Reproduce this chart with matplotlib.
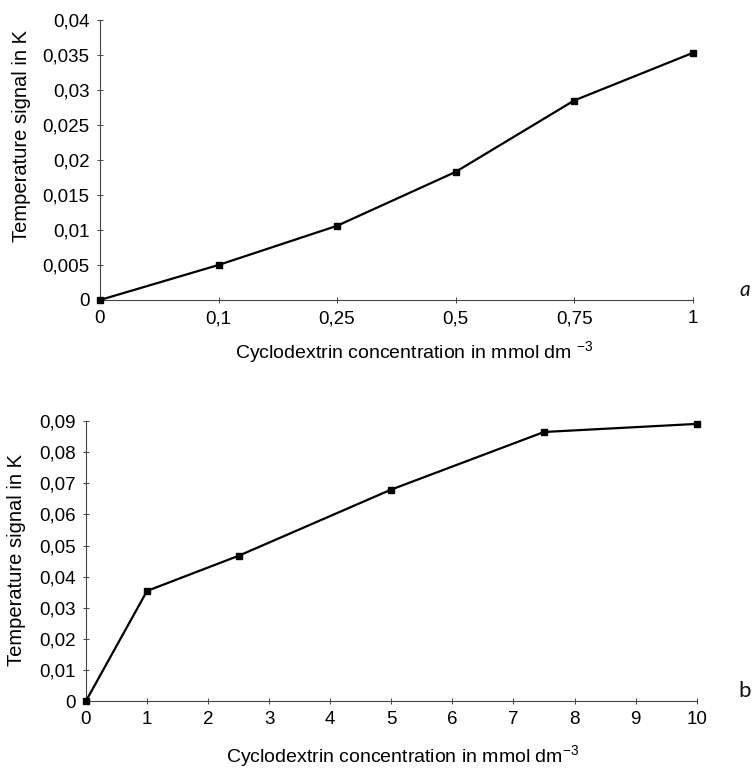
import matplotlib
matplotlib.use("Agg")
from matplotlib import pyplot as plt
from matplotlib.ticker import FuncFormatter
import numpy as np

# panel a: categorical concentrations (equally spaced)
conc_a_labels = ['0', '0,1', '0,25', '0,5', '0,75', '1']
signal_a = [0.0, 0.005, 0.0106, 0.0183, 0.0285, 0.0353]

# panel b: numeric concentrations
conc_b = [0, 1, 2.5, 5, 7.5, 10]
signal_b = [0.0, 0.0354, 0.0467, 0.0680, 0.0865, 0.0891]

ylabel = 'Temperature signal in K'
xlabel_a = r'Cyclodextrin concentration in mmol dm $^{\mathit{-3}}$'
xlabel_b = r'Cyclodextrin concentration in mmol dm$^{\mathit{-3}}$'

plt.rcParams['font.family'] = ['Liberation Sans', 'DejaVu Sans']
plt.rcParams['mathtext.fontset'] = 'custom'
plt.rcParams['mathtext.rm'] = 'Liberation Sans'
plt.rcParams['mathtext.it'] = 'Liberation Sans:italic'


def comma_fmt(v, pos):
    s = ('%.3f' % v).rstrip('0').rstrip('.')
    return s.replace('.', ',')


def style_axes(ax):
    for side in ['top', 'right']:
        ax.spines[side].set_visible(False)
    for side in ['left', 'bottom']:
        ax.spines[side].set_linewidth(0.8)
        ax.spines[side].set_color('#444444')
    ax.tick_params(direction='inout', length=5, width=0.7, color='#444444',
                   labelsize=13.5, pad=5)
    ax.yaxis.set_major_formatter(FuncFormatter(comma_fmt))


fig = plt.figure(figsize=(7.54, 7.69), dpi=100)

# panel a
ax1 = fig.add_axes([0.1326, 0.6099, 0.786, 0.364])
x_a = np.arange(len(conc_a_labels))
ax1.plot(x_a, signal_a, color='black', lw=1.6, marker='s', ms=5,
         clip_on=False, zorder=3)
ax1.set_xlim(0, len(conc_a_labels) - 1)
ax1.set_xticks(x_a)
ax1.set_xticklabels(conc_a_labels)
ax1.set_ylim(0, 0.04)
ax1.set_yticks(np.arange(0, 0.0401, 0.005))
style_axes(ax1)
ax1.set_xlabel(xlabel_a, fontsize=14)
ax1.xaxis.set_label_coords(0.531, -0.186)
ax1.xaxis.label.set_va('center')
ax1.set_ylabel(ylabel, fontsize=14.5)
ax1.yaxis.set_label_coords(-0.133, 0.586)
ax1.yaxis.label.set_va('center')
fig.text(0.9875, 0.6235, 'a', fontsize=15, family='Lato', color='#111111',
         style='italic', ha='center', va='center')

# panel b
ax2 = fig.add_axes([0.114, 0.0884, 0.810, 0.364])
ax2.plot(conc_b, signal_b, color='black', lw=1.6, marker='s', ms=5,
         clip_on=False, zorder=3)
ax2.set_xlim(0, 10)
ax2.set_xticks(range(0, 11))
ax2.set_ylim(0, 0.09)
ax2.set_yticks(np.arange(0, 0.0901, 0.01))
style_axes(ax2)
ax2.set_xlabel(xlabel_b, fontsize=14)
ax2.xaxis.set_label_coords(0.519, -0.196)
ax2.xaxis.label.set_va('center')
ax2.set_ylabel(ylabel, fontsize=14.5)
ax2.yaxis.set_label_coords(-0.113, 0.504)
ax2.yaxis.label.set_va('center')
fig.text(0.988, 0.102, 'b', fontsize=16, family='Lato', color='#111111',
         ha='center', va='center')

plt.savefig('out.png', dpi=100)
plt.close()
